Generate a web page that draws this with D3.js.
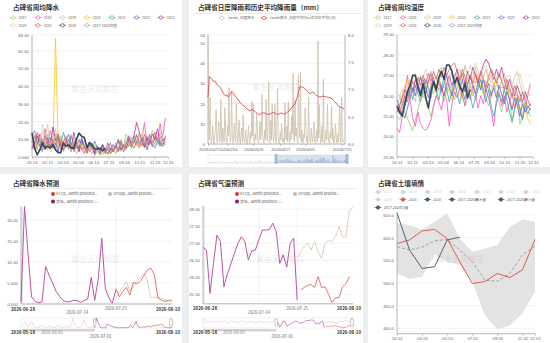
<!DOCTYPE html>
<html>
<head>
<meta charset="utf-8">
<script src="https://cdn.jsdelivr.net/npm/d3@7"></script>
<style>
body { margin: 0; background: #eceef0; }
svg { display: block; font-family: "Noto Sans CJK SC", "Noto Sans", sans-serif; }
</style>
</head>
<body>
<svg id="chart" width="550" height="343"></svg>
<script>
"use strict";

// ---------- data ----------
const years = ["2017", "2018", "2019", "2020", "2021", "2022", "2023", "2024", "2025", "2026", "2017-2025均值"];
const yearColors = ["#8fd36b", "#ff4fc4", "#d8c28d", "#ffc21a", "#3aa8b5", "#6a5fd6", "#b3349c", "#dbcfb4", "#e35d5d", "#2f4a5c", "#a5a5a5"];

const weekTicks = [0, 41, 82, 123, 164, 205, 246, 287, 328, 364];
const weekLabels = ["01 01", "02 11", "03 24", "05 04", "06 14", "07 25", "09 04", "10 15", "11 25", "12 31"];

const rainWeekly = [
  [8,12,5,3,10,7,4,9,6,11,5,8,3,6,9,4,7,2,5,8,3,6,4,2,5,3,1,4,2,6,3,5,8,4,10,6,13,9,5,11,7,14,9,6,12,8,15,10,7,9,11,8],
  [4,12,9,6,3,16,7,15,8,5,10,4,8,12,6,3,9,5,7,4,2,6,3,5,1,4,2,7,3,5,2,4,6,3,8,5,4,9,6,12,8,5,10,19.5,7,13,6,11,9,19,8,11],
  [10,6,12,8,14,11,18.5,5,11,16,7,12,6,9,4,13,7,10,5,8,3,6,4,7,2,5,3,1,4,2,3,5,2,6,4,7,5,9,6,11,8,5,13,9,7,10,6,12,8,14,9,7],
  [6,9,4,11,7,5,8,3,5,67,6,12,4,7,9,5,11,6,3,8,5,2,6,4,7,3,5,2,4,1,3,6,2,5,3,7,4,8,5,10,6,12,7,9,5,11,8,6,10,7,9,8],
  [12,15,7,10,4,9,13,6,8,5,11,7,14,9,5,12,6,8,4,10,7,3,5,8,2,6,4,7,3,5,2,4,6,3,7,5,9,6,11,8,13,7,10,5,9,12,6,8,11,7,10,9],
  [5,8,12,6,9,4,7,11,5,8,3,10,6,9,13,7,4,8,5,11,6,3,7,4,9,5,2,6,3,8,4,7,5,10,6,3,8,12,7,5,9,6,11,8,4,10,7,5,9,6,8,7],
  [9,4,7,13,8,5,11,6,17,9,12,7,4,8,10,5,14,7,3,9,6,4,8,5,2,6,3,7,4,2,5,3,6,9,4,7,5,10,8,12,19.5,14,9,6,11,7,13,10,16,8,6,12],
  [7,11,6,9,19,8,13,7,10,6,14,9,5,12,8,4,10,6,9,5,7,3,6,4,8,2,5,3,6,4,7,5,3,8,6,4,9,7,12,8,10,6,13,9,7,11,8,5,10,12,8,9],
  [11,7,14,9,6,12,8,5,10,7,13,6,9,11,5,8,3,7,10,4,6,2,8,5,3,6,4,7,2,5,8,3,6,4,9,5,7,11,6,8,12,9,6,13,7,10,8,14,9,11,12,22],
  [13.7,5,1.3,4,8,5,6,5,7,4,2.5,2.5,8,6,7,5,5,10,13.5,11.7,11,5.3,8.3,6.6,4.5,4.5,5,3.5,5],
  [8,9,8,9,9,8,9,7,8,13,8,9,6,8,9,6,9,7,6,8,5,4,6,5,5,4,3,5,3,4,4,5,5,5,7,6,7,8,7,10,10,8,9,10,8,11,8,10,9,11,9,10]
];

const tempWeekly = [
  [26.1,26.0,25.6,25.2,24.9,24.6,24.3,24.8,25.3,25.9,26.2,25.8,25.4,25.0,25.5,26.0,26.4,26.1,25.7,26.3,26.6,26.2,25.8,26.4,26.7,26.1,25.5,25.9,26.5,26.2,25.8,26.3,26.8,26.4,25.9,25.5,26.1,26.6,26.2,25.7,25.2,25.8,26.3,25.9,24.8,25.4,26.0,24.6,25.1,25.7,25.3,25.0],
  [24.4,24.2,25.0,26.2,27.0,25.8,24.9,24.5,25.2,24.6,24.4,24.3,24.5,24.8,25.5,26.0,25.7,25.3,26.1,25.8,24.5,25.6,26.2,25.9,26.4,26.0,25.5,26.3,25.8,26.5,26.1,25.4,26.0,25.6,26.3,25.9,25.3,24.5,25.8,26.2,25.5,26.0,25.2,25.7,26.1,25.4,25.9,25.2,24.9,25.5,26.0,26.6],
  [25.0,24.8,25.3,25.9,26.4,26.8,26.2,25.7,26.5,27.0,26.6,26.1,26.8,27.2,26.7,26.3,26.9,27.4,26.8,26.2,26.7,27.1,26.5,26.9,27.3,26.8,27.5,27.0,26.4,26.9,27.4,26.8,26.3,26.9,27.3,26.7,27.0,26.5,26.9,26.3,26.7,27.1,26.6,26.2,26.5,26.9,27.2,26.6,26.1,25.8,26.2,26.0],
  [25.3,25.6,26.0,26.5,26.8,26.3,26.9,27.0,26.6,26.2,25.9,26.4,26.8,26.5,26.1,26.6,26.9,26.4,26.0,26.5,26.2,25.8,26.3,26.7,26.2,25.8,26.4,26.9,26.5,26.0,26.6,27.0,26.4,26.1,26.7,26.3,25.9,26.5,26.8,26.2,25.7,26.3,26.6,25.9,25.4,26.0,25.6,25.2,25.7,25.3,24.9,24.6],
  [25.6,25.3,25.0,25.5,25.9,26.3,25.8,26.5,26.1,25.7,26.3,26.8,26.4,25.9,26.6,26.2,25.8,26.4,26.9,26.3,25.7,26.2,26.7,26.1,25.6,26.3,25.8,26.5,26.0,25.4,25.9,26.4,26.8,26.2,25.7,26.3,25.5,25.0,25.6,26.1,25.7,26.3,25.8,25.2,24.7,25.3,25.9,25.4,24.8,25.5,25.1,25.4],
  [25.8,25.4,25.1,24.9,25.4,25.9,26.4,26.0,26.6,26.2,26.8,26.4,25.9,26.5,26.9,26.3,26.7,26.2,26.6,27.0,26.4,26.0,26.5,26.9,26.3,26.8,26.2,26.6,27.0,26.5,26.1,26.7,26.3,26.8,26.2,26.6,26.0,26.4,25.9,26.5,26.1,25.6,26.2,25.8,25.3,25.9,25.5,25.0,25.6,25.2,25.5,25.3],
  [25.2,25.5,25.9,26.3,26.0,26.6,26.2,26.8,26.4,26.9,26.5,26.1,26.7,27.1,26.6,26.2,26.8,26.4,26.0,26.6,27.0,26.5,26.9,27.3,26.7,27.1,26.6,27.2,26.8,27.4,27.0,26.6,27.1,27.5,27.8,27.6,27.2,26.8,27.3,26.9,27.4,26.8,26.3,26.8,26.4,26.0,26.5,26.1,25.7,26.2,25.8,25.5],
  [25.5,25.9,26.3,26.0,26.6,26.2,26.9,27.1,26.7,26.3,26.9,27.3,26.8,27.2,26.7,27.0,26.5,27.2,26.8,26.4,26.9,27.3,26.7,27.1,26.6,27.0,27.4,26.9,27.5,27.1,27.6,27.2,26.8,27.3,27.5,27.0,26.6,27.1,26.7,27.2,26.8,26.4,26.9,27.0,26.6,26.2,26.7,27.1,26.5,26.0,25.8,25.6],
  [25.4,25.1,25.6,26.0,25.7,26.3,26.7,26.4,26.9,26.5,27.0,26.6,27.1,26.7,27.2,26.8,27.3,26.9,27.4,27.0,27.3,27.5,27.6,27.2,26.8,27.3,26.9,26.5,27.0,26.6,27.1,26.7,27.2,26.8,26.4,26.9,27.3,27.0,26.6,27.1,26.7,26.3,26.8,26.4,26.0,26.5,26.1,25.7,26.2,25.8,25.4,25.6],
  [25.5,25.2,25.0,25.6,26.2,26.5,27.0,27.0,26.4,26.0,26.6,25.9,25.4,26.2,26.7,26.3,26.9,27.2,26.8,27.5,27.5,27.2,26.6,26.9,26.5,26.2,26.6,25.9,26.3],
  [25.5,25.4,25.5,25.8,26.1,26.0,26.2,26.3,26.3,26.2,26.4,26.3,26.2,26.4,26.5,26.4,26.6,26.5,26.4,26.6,26.5,26.4,26.6,26.7,26.5,26.6,26.5,26.7,26.6,26.6,26.7,26.6,26.7,26.8,26.7,26.6,26.5,26.4,26.5,26.5,26.4,26.4,26.3,26.2,25.9,26.1,26.0,25.8,25.6,25.7,25.4,25.4]
];

// daily rain 2026-01-07 .. 2026-07-27
const dailyRain = [
  54,8,2,23,5,0.5,3,9,1,0, 4,7,17,2,0.5,6,11,3,1,22, 5,0.5,8,3,1,18,6,2,0.5,9,
  4,28,7,1,3,26,5,0.5,2,10, 3,1,20.5,6,0.5,4,12,2,0,5, 8,1,14.5,3,0.5,2,7,1,0,4,
  9,2,0.5,6,3,21,4,20,1,0.5, 5,2,15,8,1,0.5,3,11,2,6, 24.5,4,1,0.5,7,2,22,5,1,9,
  30.5,3,0.5,12,2,20,6,1,4,19.5, 3,0.5,8,27.5,4,1,0,6,2,10, 5,1,3,0.5,20.5,4,2,9,1,21,
  3,0.5,6,2,14,5,35,3,1,22, 4,8,2,0.5,34.5,6,3,35.5,1,7, 2,0.5,5,3,18,9,1,4,0.5,23,
  6,2,0.5,8,3,1,5,11,2,0.5, 4,7,1,51,3,19.5,6,0.5,2,9, 1,32,4,0.5,3,7,2,19.5,5,1,
  0.5,6,3,18.7,2,8,1,0.5,4,10, 2,0.5,5,1,7,18.7,3,0.5,23,4, 1,2
];
const rainDayTicks = [0, 29, 67, 107, 144, 198];
const rainDayLabels = ["20260107", "20260216", "20260326", "20260427", "20260601", "20260725"];
const histDays = [0,2,5,8,10,13,16,18,21,23,26,28,30,33,35,38,40,43,47,50,55,58,62,66,70,73,76,80,84,88,92,96,100,104,108,112,114,118,121,125,129,132,136,139,142,144,148,151,154,156,159,161,164,166,170,173,177,181,185,188,192,195,199,202];
const histVals = [6.86,7.24,7.20,7.15,7.16,7.10,7.06,7.04,6.97,6.92,6.88,6.90,6.86,6.92,6.97,6.93,6.88,6.84,6.77,6.73,6.68,6.64,6.61,6.63,6.59,6.56,6.53,6.57,6.57,6.54,6.55,6.58,6.56,6.54,6.57,6.55,6.55,6.59,6.62,6.68,6.74,6.85,7.05,7.05,7.03,7.01,6.96,6.92,6.95,6.95,6.91,6.89,6.87,6.86,6.88,6.87,6.86,6.85,6.82,6.77,6.72,6.68,6.66,6.65];
// 2025-06 .. 2026-01, every 3 days (slider only)
const prevRain = [2,5,1,8,3,0.5,12,4,1,6,2,9,3,15,1,4,7,2,0.5,5,11,3,1,8,2,6,18,4,1,3,9,2,5,14,1,7,3,0.5,10,4,2,16,6,1,3,8,12,2,5,20,4,1,9,3,7,2,15,5,1,11,3,6,2,8,4];

// forecasts: day 0 = 2026-06-28, day 43 = 2026-08-10 ; slider day 0 = 2026-05-18
const fcLabels = ["2026-06-28", "2026-07-14", "2026-07-25", "2026-08-10"];
const rainPre = [3,8,15,6,2,10,15,4,1,0.5,2,5,8,3,1,0.5,6,3,2,1,4,7,2,0.5,1,3,5,2,8,22,6,2,1,3,5,19,8,3,1,0.5,2];
const rainObs = [0.5,23.2,12,1.7,0.6,0.3,0.5,8.9,6.9,5.0,3.0,1.8,0.8,0.5,0.6,0.9,0.8,0.4,0.8,1.2,6.3,0.9,6,15.6,3.7,1.5,0.2,3.3];
const rainEcc = [3.7,1.7,3.0,4.0,2.1,5.2,4.8,5.4,6.8,8.1,8.5,6.9,1.4,0.9,0.6,0.8,1.0];
const rainGfs = [1.4,2.8,4.1,5.4,3.0,4.1,5.4,6.3,7.3,5.5,1.4,1.7,1.5,1.4,1.0,0.8,0.6];
const tempPre = [27.9,27.2,26.9,27.1,26.8,27.2,27.0,26.7,27.1,27.3,26.9,27.0,27.2,26.8,26.6,27.0,27.3,27.1,26.9,27.2,26.8,27.0,27.4,27.1,26.7,27.0,26.9,27.2,27.0,26.6,26.9,27.1,27.3,26.8,27.0,26.7,26.9,27.1,26.8,27.0,27.2];
const tempObs = [26.88,26.80,25.53,26.4,27.24,27.05,25.72,26.1,26.4,26.7,27.0,27.19,27.05,26.51,26.78,26.80,27.10,27.39,27.39,27.40,27.59,27.34,26.41,26.66,26.30,27.0,27.15,25.33];
const tempEcc = [25.63,25.70,25.76,25.79,25.70,26.02,25.70,25.72,25.50,25.26,25.40,25.40,25.72,25.82,26.02];
const tempGfs = [26.56,26.75,26.9,27.02,26.80,27.05,26.75,26.56,27.00,27.08,27.05,27.2,27.49,27.19,27.19,27.98,28.08];

// soil moisture, monthly
const monthLabels = ["01 01", "", "03 01", "", "05 01", "", "07 01", "", "09 01", "", "11 01", "12 01"];
const soilMax = [632,628,617,635,654,598,569,576,584,624,640,635];
const soilMin = [521,509,514,563,547,540,503,429,398,407,433,481];
const soilMean = [580,573,579,593,596,573,547,506,504,521,562,581];
const soil2025 = [587,595,615,618,598,547,499,503,521,512,529,596];
const soil2026 = [654,573,532,536,595,601];

// ---------- helpers ----------
const svg = d3.select("#chart");
const fmt4 = d => (+d).toPrecision(4);
const AX = 4.3;   // axis label size
const LG = 3.6;   // legend text size

function panel(x, y, w, h) {
  svg.append("rect").attr("x", x).attr("y", y).attr("width", w).attr("height", h).attr("fill", "#fff");
}
function title(x, y, t) {
  svg.append("text").attr("x", x).attr("y", y)
    .attr("font-size", 6.6).attr("font-weight", "bold").attr("fill", "#333").text(t);
}
function rule(x1, x2, y) {
  svg.append("line").attr("x1", x1).attr("x2", x2).attr("y1", y).attr("y2", y)
    .attr("stroke", "#ddd").attr("stroke-width", 0.6);
}
function watermark(x, y) {
  svg.append("text").attr("x", x).attr("y", y).attr("text-anchor", "middle")
    .attr("font-size", 8).attr("fill", "#000").attr("opacity", 0.08).text("紫金天风期货");
}
function label(x, y, t, anchor, opts) {
  opts = opts || {};
  return svg.append("text").attr("x", x).attr("y", y).attr("text-anchor", anchor || "start")
    .attr("font-size", opts.size || AX).attr("fill", opts.fill || "#666")
    .attr("font-weight", opts.bold ? "bold" : null).attr("font-style", opts.italic ? "italic" : null)
    .text(t);
}
function legendLine(x, y, color, t, textColor, filled, italic) {
  svg.append("line").attr("x1", x - 3.5).attr("x2", x + 3.5).attr("y1", y).attr("y2", y)
    .attr("stroke", color).attr("stroke-width", 0.7);
  svg.append("circle").attr("cx", x).attr("cy", y).attr("r", 1.7)
    .attr("fill", filled ? color : "#fff").attr("stroke", color).attr("stroke-width", 0.7);
  label(x + 5.5, y + 1.3, t, "start", { fill: textColor || "#666", italic: italic, size: LG });
}
function legendDot(x, y, color, t) {
  svg.append("circle").attr("cx", x).attr("cy", y).attr("r", 2).attr("fill", color);
  label(x + 3.3, y + 1.3, t, "start", { fill: "#555", size: 3.8 });
}
function yAxis(scale, x, ticks, x2, format) {
  ticks.forEach(t => {
    svg.append("line").attr("x1", x).attr("x2", x2).attr("y1", scale(t)).attr("y2", scale(t))
      .attr("stroke", "#eaeaea").attr("stroke-width", 0.6);
  });
  const a = svg.append("g").attr("transform", `translate(${x},0)`)
    .call(d3.axisLeft(scale).tickValues(ticks).tickFormat(format).tickSize(0).tickPadding(3));
  a.select(".domain").remove();
  a.selectAll("text").attr("font-size", AX).attr("fill", "#666").attr("font-family", null);
  return a;
}
function vline(x, y1, y2, color, w) {
  svg.append("line").attr("x1", x).attr("x2", x).attr("y1", y1).attr("y2", y2)
    .attr("stroke", color || "#999").attr("stroke-width", w || 0.7);
}
function xAxis(scale, y, ticks, labels, x1, x2) {
  svg.append("line").attr("x1", x1).attr("x2", x2).attr("y1", y).attr("y2", y)
    .attr("stroke", "#999").attr("stroke-width", 0.7);
  const a = svg.append("g").attr("transform", `translate(0,${y})`)
    .call(d3.axisBottom(scale).tickValues(ticks).tickFormat((d, i) => labels[i]).tickSize(2).tickPadding(1.5));
  a.select(".domain").remove();
  a.selectAll("line").attr("stroke", "#999").attr("stroke-width", 0.6);
  a.selectAll("text").attr("font-size", AX).attr("fill", "#666").attr("font-family", null);
  return a;
}
function path(data, line, color, width, dash) {
  svg.append("path").datum(data).attr("d", line).attr("fill", "none")
    .attr("stroke", color).attr("stroke-width", width || 0.8)
    .attr("stroke-linejoin", "round").attr("stroke-dasharray", dash || null);
}

// ---------- panels ----------
panel(0, 0, 182, 167);
panel(189, 0, 174, 167);
panel(368, 0, 182, 167);
panel(0, 174, 182, 169);
panel(189, 174, 174, 169);
panel(368, 174, 182, 169);

// ---------- weekly charts (rain + temperature) ----------
function weeklyChart(ox, ttl, series, yDomain, yRange, yTicks) {
  title(ox + 13, 10, ttl);
  const row1 = [13, 38, 62.5, 87, 112, 136.5, 161];
  years.forEach((yr, i) => {
    const lx = ox + (i < 7 ? row1[i] : row1[i - 7]);
    const ly = i < 7 ? 17.5 : 25.3;
    legendLine(lx, ly, yearColors[i], yr);
  });
  const x = d3.scaleLinear().domain([0, 364]).range([ox + 32, ox + 168]);
  const y = d3.scaleLinear().domain(yDomain).range(yRange);
  yAxis(y, ox + 32, yTicks, ox + 168, fmt4);
  watermark(ox + 95, 92);
  vline(ox + 32, yRange[1], yRange[0]);
  xAxis(x, yRange[0], weekTicks, weekLabels, ox + 32, ox + 168);
  const line = d3.line().x((d, i) => x(i * 7)).y(d => y(d));
  const order = [0, 1, 2, 3, 4, 5, 6, 7, 8, 10, 9];
  order.forEach(k => path(series[k], line, yearColors[k], k === 9 ? 1.6 : 0.8));
}
weeklyChart(0, "占碑省周均降水", rainWeekly, [0, 69], [157, 35], [0, 10, 20, 30, 40, 50, 60, 69]);
weeklyChart(365, "占碑省周均温度", tempWeekly, [23, 29], [157, 34.5], [23, 24, 25, 26, 27, 28, 29]);

// ---------- daily rain vs history ----------
{
  title(198, 10, "占碑省日度降雨和历史平均降雨量（mm）");
  rule(194, 362, 13.5);
  legendLine(222, 18, "#cdbfa9", "Jambi_日度降水");
  legendLine(264, 18, "#e04848", "Jambi降水_历史平均(Ecc近20年平均)(右)");
  const x = d3.scaleLinear().domain([0, 203]).range([208, 345]);
  const yl = d3.scaleLinear().domain([0, 54]).range([144, 35]);
  const yr = d3.scaleLinear().domain([6, 8]).range([144, 35]);
  yAxis(yl, 208, [0, 10, 20, 30, 40, 50, 54], 345, d => d);
  const ra = svg.append("g").attr("transform", "translate(345,0)")
    .call(d3.axisRight(yr).tickValues([6, 6.5, 7, 7.5, 8]).tickSize(0).tickPadding(3));
  ra.select(".domain").remove();
  ra.selectAll("text").attr("font-size", AX).attr("fill", "#666").attr("font-family", null);
  vline(208, 35, 144);
  vline(345, 35, 144);
  watermark(276, 90);
  xAxis(x, 144, rainDayTicks, rainDayLabels, 208, 345);
  path(dailyRain, d3.line().x((d, i) => x(i)).y(d => yl(d)), "#cdbfa9", 0.8);
  path(histVals, d3.line().x((d, i) => x(histDays[i])).y(d => yr(d)), "#e04848", 0.9);

  // slider
  const sx0 = 208, sx1 = 347, sy0 = 155, sy1 = 163;
  svg.append("rect").attr("x", sx0).attr("y", sy0).attr("width", sx1 - sx0).attr("height", sy1 - sy0)
    .attr("fill", "none").attr("stroke", "#d8dde6").attr("stroke-width", 0.6);
  const selX = 276;
  const mxPrev = d3.scaleLinear().domain([0, prevRain.length]).range([sx0, selX]);
  const mxCur = d3.scaleLinear().domain([0, 203]).range([selX, sx1]);
  const my = d3.scaleLinear().domain([0, 54]).range([sy1, sy0]);
  path(prevRain, d3.line().x((d, i) => mxPrev(i)).y(d => my(d)), "#c8ccd4", 0.5);
  svg.append("rect").attr("x", selX).attr("y", sy0).attr("width", sx1 - selX).attr("height", sy1 - sy0)
    .attr("fill", "#c6d5ea").attr("opacity", 0.7);
  path(dailyRain, d3.line().x((d, i) => mxCur(i)).y(d => my(d)), "#97a9c6", 0.5);
  [selX, sx1].forEach(hx => {
    svg.append("rect").attr("x", hx - 1.5).attr("y", sy0 - 1).attr("width", 3).attr("height", sy1 - sy0 + 2)
      .attr("rx", 1).attr("fill", "#a6b8d3");
  });
}

// ---------- forecasts ----------
function forecastChart(ox, ttl, pre, obs, ecc, gfs, yDom, yRng, yTicks, yMin, yMax, fmt, eccStart) {
  title(ox + 13, 185.5, ttl);
  rule(ox + 8, ox + 172, 188.5);
  const lx = ox === 0 ? 53 : 237, lx2 = ox === 0 ? 110 : 295;
  const left = ox === 0 ? 21 : 203, right = ox === 0 ? 172 : 353;
  legendDot(lx, 194, "#e0363a", "ECCp, Jambi province...");
  legendDot(lx2, 194, "#c9b7a3", "GFSop, Jambi provinc...");
  legendDot(lx, 201.5, "#8a1f5f", "实际, Jambi province (...");
  const x = d3.scaleLinear().domain([0, 43]).range([left, right]);
  const y = d3.scaleLinear().domain(yDom).range(yRng);
  const bottom = y(yMin), top = y(yMax);
  yAxis(y, left, yTicks, right, fmt);
  [16, 27].forEach(t => vline(x(t), top, bottom, "#eaeaea", 0.6));
  vline(left, top, bottom);
  vline(left + 1.2, top, bottom, "#bbb", 0.5);
  svg.append("line").attr("x1", left).attr("x2", right).attr("y1", bottom).attr("y2", bottom)
    .attr("stroke", "#999").attr("stroke-width", 0.7);
  watermark(ox + 95, 262);
  // axis labels
  label(x(0) + 2, bottom + 6.5, fcLabels[0], "middle", { bold: true, fill: "#333", size: 4.4 });
  label(x(16), bottom + 10, fcLabels[1], "middle");
  label(x(27), bottom + 6, fcLabels[2], "middle");
  label(x(43) - 4, bottom + 6.5, fcLabels[3], "middle", { bold: true, fill: "#333", size: 4.4 });

  const lineAt = start => d3.line().x((d, i) => x(start + i)).y(d => y(d));
  path(obs, lineAt(0), "#b4419a", 0.9);
  path(gfs, lineAt(27), "#d9cbbd", 0.9);
  path(ecc, lineAt(eccStart), "#e06a5e", 0.9);

  // slider
  const sy0 = 318, sy1 = 328;
  const full = pre.length + 43;
  const sx = d3.scaleLinear().domain([0, full]).range([left, right]);
  const sy = d3.scaleLinear().domain([yMin, yMax]).range([sy1, sy0]);
  const selX = sx(pre.length);
  svg.append("rect").attr("x", left).attr("y", sy0).attr("width", right - left).attr("height", sy1 - sy0)
    .attr("fill", "none").attr("stroke", "#e4e4e4").attr("stroke-width", 0.6);
  svg.append("rect").attr("x", left).attr("y", sy1 + 1).attr("width", selX - left).attr("height", 2.5)
    .attr("fill", "#d4d4d4");
  path(pre.concat(obs.slice(0, 1)), d3.line().x((d, i) => sx(i)).y(d => sy(d)), "#ecc3e0", 0.6);
  path(obs, d3.line().x((d, i) => sx(pre.length + i)).y(d => sy(d)), "#b4419a", 0.6);
  path(gfs, d3.line().x((d, i) => sx(pre.length + 27 + i)).y(d => sy(d)), "#d9cbbd", 0.6);
  path(ecc, d3.line().x((d, i) => sx(pre.length + eccStart + i)).y(d => sy(d)), "#e06a5e", 0.6);
  [selX, right - 1].forEach(hx => {
    svg.append("rect").attr("x", hx - 1.2).attr("y", sy0 + 1).attr("width", 2.4).attr("height", 7)
      .attr("fill", "#fff").attr("stroke", "#999").attr("stroke-width", 0.5);
  });
  label(left + 2, 333.5, "2026-05-18", "middle", { bold: true, fill: "#333", size: 4.4 });
  label(left + 31, 333.5, "2026-06-01", "middle", { fill: "#888" });
  label(selX + 6, 338, "2026-07-01", "middle");
  label(right - 4, 333.5, "2026-08-10", "middle", { bold: true, fill: "#333", size: 4.4 });
}
forecastChart(0, "占碑省降水预测", rainPre, rainObs, rainEcc, rainGfs,
  [0, 20], [304, 220], [0, 5, 10, 15, 20], 0, 23.2, fmt4, 27);
forecastChart(185, "占碑省气温预测", tempPre, tempObs, tempEcc, tempGfs,
  [25.5, 28], [294.3, 209.3], [25.5, 26, 26.5, 27, 27.5, 28], 25.22, 28.1, d => d3.format(".2f")(d), 28);

// ---------- soil moisture ----------
{
  title(378, 185.5, "占碑省土壤墒情");
  const row1 = [378, 403, 427.5, 452, 477, 501, 526];
  const gray = "#d2d2d2";
  ["2017", "2018", "2019", "2020", "2021", "2022", "2023"].forEach((t, i) => legendLine(row1[i], 192, gray, t, gray, true, true));
  legendLine(378, 199.5, gray, "2024", gray, true, true);
  legendLine(403, 199.5, "#d9534f", "2025", "#555", true, true);
  legendLine(427.5, 199.5, "#3f5667", "2026", "#555", true, true);
  legendLine(452, 199.5, "#555", "2017-2025最大值", "#555", true, true);
  legendLine(501, 199.5, "#555", "2017-2025最小值", "#555", true, true);
  legendLine(378, 207.5, "#555", "2017-2025均值", "#555", true, true);

  const x = d3.scaleLinear().domain([0, 11]).range([397, 535]);
  const y = d3.scaleLinear().domain([400, 650]).range([328.3, 215]);
  const bottom = y(388), top = y(657);
  yAxis(y, 397, [400, 450, 500, 550, 600, 650], 535, d => d3.format(".1f")(d));
  svg.append("path").datum(soilMax.map((d, i) => [i, d, soilMin[i]]))
    .attr("d", d3.area().x(d => x(d[0])).y0(d => y(d[2])).y1(d => y(d[1])))
    .attr("fill", "#e3e3e3");
  watermark(460, 262);
  vline(397, top, bottom);
  const ticks = d3.range(12).filter(i => monthLabels[i] !== "");
  xAxis(x, bottom, ticks, ticks.map(i => monthLabels[i]), 397, 535);
  const line = d3.line().x((d, i) => x(i)).y(d => y(d));
  path(soilMean, line, "#9a9a9a", 0.9, "3,2");
  path(soil2025, line, "#de5b57", 1);
  path(soil2026, line, "#4d6577", 1);
}
</script>
</body>
</html>
